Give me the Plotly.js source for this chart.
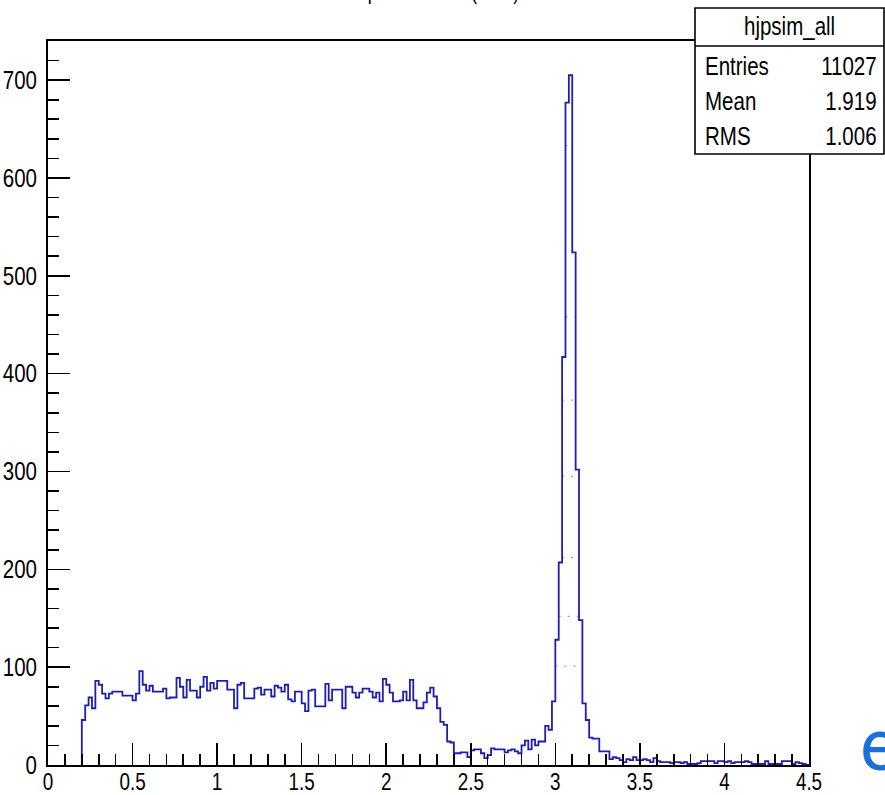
<!DOCTYPE html>
<html>
<head>
<meta charset="utf-8">
<script src="https://cdn.plot.ly/plotly-3.0.1.min.js"></script>
<style>
  html, body { margin: 0; padding: 0; background: #ffffff; }
  #chart { width: 885px; height: 795px; }
</style>
</head>
<body>
<div id="chart"></div>
<script>
// ---------------- DATA ----------------
const xMin = 0;
const xMax = 4.5;
const nBins = 225;

// bin contents (225 bins of width 0.02 from 0 to 4.5)
const counts = [
  0, 0, 0, 0, 0, 0, 0, 0, 0, 0,
  46, 61, 69, 58, 86, 82, 73, 68, 73, 75,
  75, 75, 71, 71, 71, 66, 73, 96, 82, 76,
  81, 75, 75, 75, 78, 68, 69, 69, 89, 80,
  69, 87, 76, 76, 69, 80, 90, 76, 84, 78,
  86, 86, 86, 77, 77, 58, 82, 84, 68, 68,
  68, 78, 79, 72, 77, 77, 70, 81, 79, 75,
  82, 67, 65, 75, 75, 63, 55, 76, 77, 60,
  60, 60, 83, 66, 77, 77, 77, 58, 80, 80,
  74, 69, 74, 78, 78, 75, 69, 74, 65, 88,
  82, 74, 65, 65, 66, 75, 66, 87, 66, 58,
  58, 64, 74, 79, 70, 58, 44, 41, 24, 23,
  12, 12, 13, 13, 8, 15, 16, 16, 12, 7,
  10, 17, 16, 16, 16, 13, 15, 16, 14, 12,
  20, 25, 16, 26, 20, 24, 24, 40, 36, 65,
  128, 207, 417, 677, 705, 524, 302, 148, 63, 46,
  28, 27, 27, 14, 14, 14, 6, 8, 7, 5,
  3, 6, 5, 8, 5, 5, 6, 5, 3, 7,
  4, 3, 3, 3, 2, 3, 3, 2, 3, 1,
  1, 1, 2, 4, 4, 4, 4, 2, 4, 4,
  3, 4, 2, 3, 3, 3, 4, 3, 1, 1,
  1, 1, 4, 1, 1, 1, 1, 4, 4, 4,
  1, 3, 2, 1, 0
];

// faint dotted levels seen inside the peak
const dotLevels = [101, 152, 212, 295, 373, 458, 633];

const xTickVals = [0, 0.5, 1, 1.5, 2, 2.5, 3, 3.5, 4, 4.5];
const xTickText = ['0', '0.5', '1', '1.5', '2', '2.5', '3', '3.5', '4', '4.5'];
const yTickVals = [0, 100, 200, 300, 400, 500, 600, 700];
const yTickText = ['0', '100', '200', '300', '400', '500', '600', '700'];
const yMaxRange = 740;

const statsName = 'hjpsim_all';
const statsLabels = ['Entries', 'Mean', 'RMS'];
const statsValues = ['11027', '1.919', '1.006'];
const titleText = 'e\u207Ae\u207B pair mass M (GeV)';
const cornerText = 'e';

// ---------------- BUILD ----------------
const binW = (xMax - xMin) / nBins;
let first = 0;
while (first < nBins && counts[first] === 0) first++;
const xs = [xMin + first * binW];
const ys = [0];
for (let i = first; i < nBins; i++) {
  xs.push(xMin + i * binW);
  ys.push(counts[i]);
}
xs.push(xMax);
ys.push(counts[nBins - 1]);

// dotted segments spanning the bins above each level
const dx = [], dy = [];
dotLevels.forEach(function (lv) {
  let a = -1, b = -1;
  for (let i = 0; i < nBins; i++) {
    if (counts[i] > lv) { if (a < 0) a = i; b = i; }
  }
  if (a >= 0) {
    dx.push(xMin + a * binW, xMin + (b + 1) * binW, null);
    dy.push(lv, lv, null);
  }
});

const W = 885, H = 795;
const M = { l: 48, r: 76, t: 41, b: 30 };
const plotW = W - M.l - M.r;
const plotH = H - M.t - M.b;
const px2x = (px) => (px - M.l) / plotW;
const py2y = (py) => (H - M.b - py) / plotH;

const FONT = '"Liberation Sans", Arial, sans-serif';
const NARROW = 0.82;

const dotTrace = {
  type: 'scatter',
  mode: 'lines',
  x: dx,
  y: dy,
  connectgaps: false,
  line: { color: 'rgba(80,80,210,0.6)', width: 1.2, dash: '2px,7px' },
  hoverinfo: 'skip'
};

const trace = {
  type: 'scatter',
  mode: 'lines',
  x: xs,
  y: ys,
  line: { shape: 'hv', color: '#1e1eb0', width: 1.8 },
  hoverinfo: 'skip'
};

const axisCommon = {
  showline: true,
  linecolor: '#000',
  linewidth: 2,
  mirror: true,
  showgrid: false,
  zeroline: false,
  ticks: 'inside',
  tickcolor: '#000',
  tickwidth: 1.6,
  tickmode: 'array',
  layer: 'above traces'
};

const layout = {
  width: W,
  height: H,
  margin: M,
  paper_bgcolor: '#ffffff',
  plot_bgcolor: '#ffffff',
  showlegend: false,
  xaxis: Object.assign({}, axisCommon, {
    range: [xMin, xMax],
    tickvals: xTickVals,
    ticktext: xTickText,
    ticklen: 22,
    ticklabelstandoff: -5,
    tickfont: { family: FONT, size: 23, color: '#000' },
    minor: { tick0: 0, dtick: 0.1, ticks: 'inside', ticklen: 11, tickcolor: '#000', tickwidth: 1.6 }
  }),
  yaxis: Object.assign({}, axisCommon, {
    range: [0, yMaxRange],
    tickvals: yTickVals,
    ticktext: yTickText,
    ticklen: 22,
    ticklabelstandoff: 4,
    tickfont: { family: FONT, size: 25, color: '#000' },
    minor: { tick0: 0, dtick: 20, ticks: 'inside', ticklen: 11, tickcolor: '#000', tickwidth: 1.6 }
  }),
  shapes: [
    { type: 'rect', xref: 'paper', yref: 'paper',
      x0: px2x(695), x1: px2x(884), y0: py2y(154), y1: py2y(8),
      fillcolor: '#ffffff', line: { color: '#000', width: 1.6 }, layer: 'above' },
    { type: 'line', xref: 'paper', yref: 'paper',
      x0: px2x(695), x1: px2x(884), y0: py2y(46), y1: py2y(46),
      line: { color: '#000', width: 1.6 }, layer: 'above' }
  ],
  annotations: []
};

const annAlign = [];
function addAnn(a, align) { layout.annotations.push(a); annAlign.push(align); }

addAnn({
  xref: 'paper', yref: 'paper', x: px2x(789), y: py2y(26),
  xanchor: 'center', yanchor: 'middle', showarrow: false,
  text: statsName, font: { family: FONT, size: 25, color: '#000' }
}, 'center');
const rowY = [66, 101, 136];
for (let i = 0; i < statsLabels.length; i++) {
  addAnn({
    xref: 'paper', yref: 'paper', x: px2x(703), y: py2y(rowY[i]),
    xanchor: 'left', yanchor: 'middle', showarrow: false,
    text: statsLabels[i], font: { family: FONT, size: 25, color: '#000' }
  }, 'left');
  addAnn({
    xref: 'paper', yref: 'paper', x: px2x(879), y: py2y(rowY[i]),
    xanchor: 'right', yanchor: 'middle', showarrow: false,
    text: statsValues[i], font: { family: FONT, size: 25, color: '#000' }
  }, 'right');
}
// title, mostly above the visible page (only descenders show)
addAnn({
  xref: 'paper', yref: 'paper', x: px2x(521), y: py2y(6),
  xanchor: 'right', yanchor: 'bottom', showarrow: false,
  text: titleText, font: { family: FONT, size: 22, color: '#000' }
}, 'right');
// large blue letter at the lower right corner
addAnn({
  xref: 'paper', yref: 'paper', x: px2x(858), y: py2y(790),
  xanchor: 'left', yanchor: 'bottom', showarrow: false,
  text: cornerText, font: { family: 'Roboto, "Liberation Sans", Arial, sans-serif', size: 72, color: '#1a6fdc' }
}, 'none');

// squeeze text horizontally to mimic the narrow ROOT font
function condense(el, factor, align) {
  const len = el.getComputedTextLength();
  if (!len) return;
  const b1 = el.getBBox();
  let anchor = 'middle', ax = b1.x + b1.width / 2;
  if (align === 'left') { anchor = 'start'; ax = b1.x; }
  else if (align === 'right') { anchor = 'end'; ax = b1.x + b1.width; }
  el.setAttribute('text-anchor', anchor);
  el.style.textAnchor = anchor;
  el.setAttribute('x', ax.toFixed(2));
  el.setAttribute('textLength', (len * factor).toFixed(2));
  el.setAttribute('lengthAdjust', 'spacingAndGlyphs');
}

Plotly.newPlot('chart', [dotTrace, trace], layout, { displayModeBar: false, staticPlot: true }).then(function (gd) {
  gd.querySelectorAll('.xtick text').forEach(function (t) { condense(t, NARROW, 'center'); });
  gd.querySelectorAll('.ytick text').forEach(function (t) { condense(t, NARROW, 'right'); });
  gd.querySelectorAll('.annotation').forEach(function (g) {
    const idx = parseInt(g.getAttribute('data-index'), 10);
    const align = annAlign[idx];
    if (align === 'none') return;
    const t = g.querySelector('text');
    if (t) condense(t, NARROW, align);
  });
});
</script>
</body>
</html>
